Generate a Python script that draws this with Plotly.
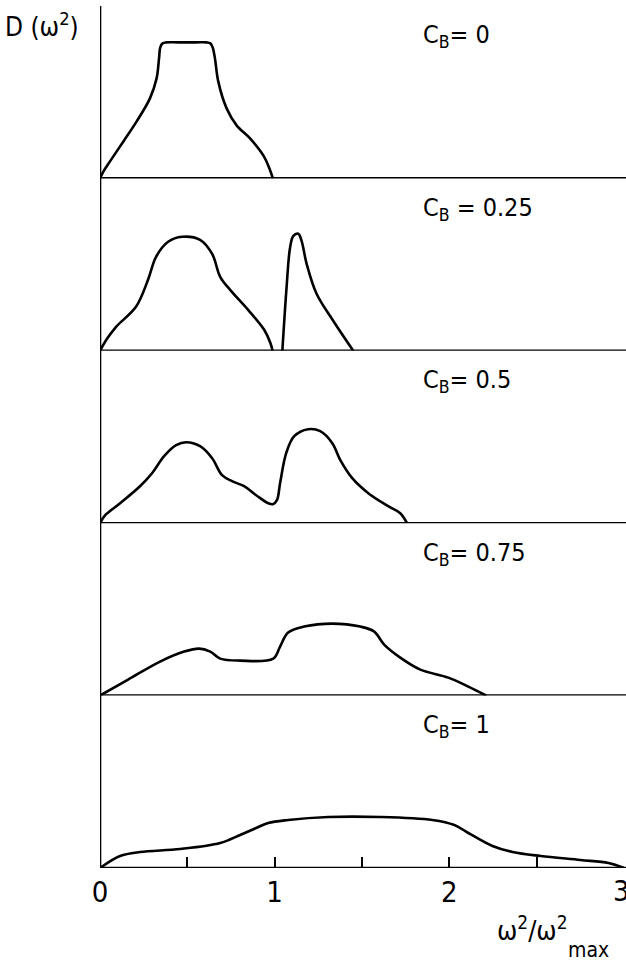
import plotly.graph_objects as go

# ---- data (D in arbitrary units) ----
cb_labels = ["C<sub>B</sub>= 0", "C<sub>B</sub> = 0.25", "C<sub>B</sub>= 0.5", "C<sub>B</sub>= 0.75", "C<sub>B</sub>= 1"]

x_cb0 = [0, 0.02, 0.057, 0.134, 0.21, 0.286, 0.324, 0.338, 0.345, 0.358, 0.38, 0.45, 0.55, 0.61, 0.632, 0.645, 0.658, 0.677, 0.725, 0.782, 0.859, 0.935, 0.97, 0.99]
d_cb0 = [0, 7, 17, 37, 57, 80, 100, 120, 131, 135, 136, 136, 136, 136, 135, 131, 120, 97, 70, 53, 40, 23, 10, 0]

x_cb025 = [0, 0.04, 0.092, 0.206, 0.275, 0.321, 0.39, 0.47, 0.573, 0.642, 0.688, 0.745, 0.848, 0.94, 0.975, 0.988,
           None,
           1.044, 1.068, 1.088, 1.107, 1.135, 1.154, 1.183, 1.24, 1.335, 1.45]
d_cb025 = [0, 12, 24, 44, 71, 94, 109, 114, 111, 97, 74, 61, 41, 21, 8, 0,
           None,
           0, 63, 103, 115, 117, 110, 87, 57, 30, 0]

x_cb05 = [0, 0.03, 0.115, 0.229, 0.298, 0.367, 0.436, 0.493, 0.573, 0.642, 0.699, 0.756, 0.825, 0.894,
          0.963, 0.99, 1.013, 1.031, 1.066, 1.112, 1.192, 1.261, 1.33, 1.376, 1.444, 1.536, 1.65, 1.719, 1.758]
d_cb05 = [0, 8, 20, 37, 50, 67, 78, 81, 77, 65, 48, 42, 37, 28,
          20, 19, 23, 40, 70, 87, 94, 92, 80, 63, 45, 30, 17, 10, 0]

x_cb075 = [0, 0.161, 0.344, 0.482, 0.567, 0.631, 0.688, 0.802, 0.992, 1.031, 1.077, 1.169, 1.33, 1.49,
           1.57, 1.627, 1.719, 1.834, 1.994, 2.109, 2.212]
d_cb075 = [0, 16, 34, 44, 47, 44, 37, 35, 37, 49, 63, 69, 72, 69,
           64, 51, 38, 26, 18, 9, 0]

x_cb1 = [0, 0.115, 0.229, 0.459, 0.688, 0.802, 0.894, 0.963, 1.077, 1.307, 1.605, 1.903, 2.029, 2.109,
         2.247, 2.362, 2.522, 2.751, 2.911, 3.0]
d_cb1 = [0, 12, 16, 19, 25, 33, 40, 45, 48, 51, 51, 48, 43, 35,
         22, 16, 12, 8, 5, 0]

series_x = [x_cb0, x_cb025, x_cb05, x_cb075, x_cb1]
series_d = [d_cb0, d_cb025, d_cb05, d_cb075, d_cb1]

x_tickvals = [0, 0.5, 1, 1.5, 2, 2.5, 3]
x_ticktext = ["0", "", "1", "", "2", "", "3"]

# ---- layout ----
W, H = 626, 966
mt, mb, ml, mr = 6, 98, 100, 2
ph = H - mt - mb
panel_px = 172.4
n = 5
FONT = "Liberation Sans Narrow, DejaVu Sans Condensed, Roboto, sans-serif"
LW = 2.6
TICKSIZE = 29

fig = go.Figure()
shapes = []
annotations = []

for i in range(n):
    k = n - i
    lo = (n - 1 - i) * panel_px / ph
    hi = min(1.0, lo + panel_px / ph) if i > 0 else 1.0
    yname = "y" if k == 1 else f"y{k}"
    lname = "yaxis" if k == 1 else f"yaxis{k}"
    fig.add_trace(go.Scatter(
        x=series_x[i], y=series_d[i], xaxis="x", yaxis=yname,
        mode="lines", line=dict(color="black", width=LW, shape="spline", smoothing=1.0),
        connectgaps=False, showlegend=False, hoverinfo="skip"))
    fig.layout[lname] = dict(domain=[lo, hi], range=[0, panel_px], visible=False, fixedrange=True)
    shapes.append(dict(type="line", xref="paper", yref=yname, x0=0, x1=1.01, y0=0, y1=0,
                       line=dict(color="black", width=LW)))
    annotations.append(dict(text=cb_labels[i], xref="x", yref=yname, x=1.84, y=142,
                            xanchor="left", yanchor="middle", showarrow=False,
                            font=dict(family=FONT, size=25, color="black")))

shapes.append(dict(type="line", xref="x", yref="paper", x0=0, x1=0, y0=0, y1=1.0,
                   line=dict(color="black", width=LW)))

# the last tick label sits on the right edge: draw it as an annotation so it does not push the margin
axis_ticktext = x_ticktext[:-1] + [""]
annotations.append(dict(text=x_ticktext[-1], xref="x", yref="paper", x=x_tickvals[-1] - 0.012,
                        y=-(891 - (H - mb)) / ph, xanchor="center", yanchor="middle",
                        showarrow=False, font=dict(family=FONT, size=TICKSIZE, color="black")))

pw = W - ml - mr
annotations.append(dict(text="D (ω<sup>2</sup>)", xref="paper", yref="paper",
                        x=(3 - ml) / pw, y=1.0,
                        xanchor="left", yanchor="top", showarrow=False,
                        font=dict(family=FONT, size=26, color="black")))
annotations.append(dict(text="ω<sup>2</sup>/ω<sup>2</sup>", xref="x", yref="paper",
                        x=2.26, y=-0.047, xanchor="left", yanchor="top", showarrow=False,
                        font=dict(family=FONT, size=27, color="black")))
annotations.append(dict(text="max", xref="x", yref="paper",
                        x=2.67, y=-0.079, xanchor="left", yanchor="top", showarrow=False,
                        font=dict(family=FONT, size=21, color="black")))

fig.update_layout(
    width=W, height=H,
    margin=dict(l=ml, r=mr, t=mt, b=mb, autoexpand=False),
    paper_bgcolor="white", plot_bgcolor="white",
    xaxis=dict(range=[0, 3], anchor="y", showgrid=False, zeroline=False, showline=False,
               automargin=False,
               tickvals=x_tickvals, ticktext=axis_ticktext, ticks="inside", ticklen=11,
               tickwidth=2, tickcolor="black", ticklabelstandoff=4,
               tickfont=dict(family=FONT, size=TICKSIZE, color="black"), fixedrange=True),
    shapes=shapes, annotations=annotations, showlegend=False,
)

fig.write_html("out.html", config={"displayModeBar": False},
               post_script="document.body.style.margin='0';document.body.style.padding='0';")
